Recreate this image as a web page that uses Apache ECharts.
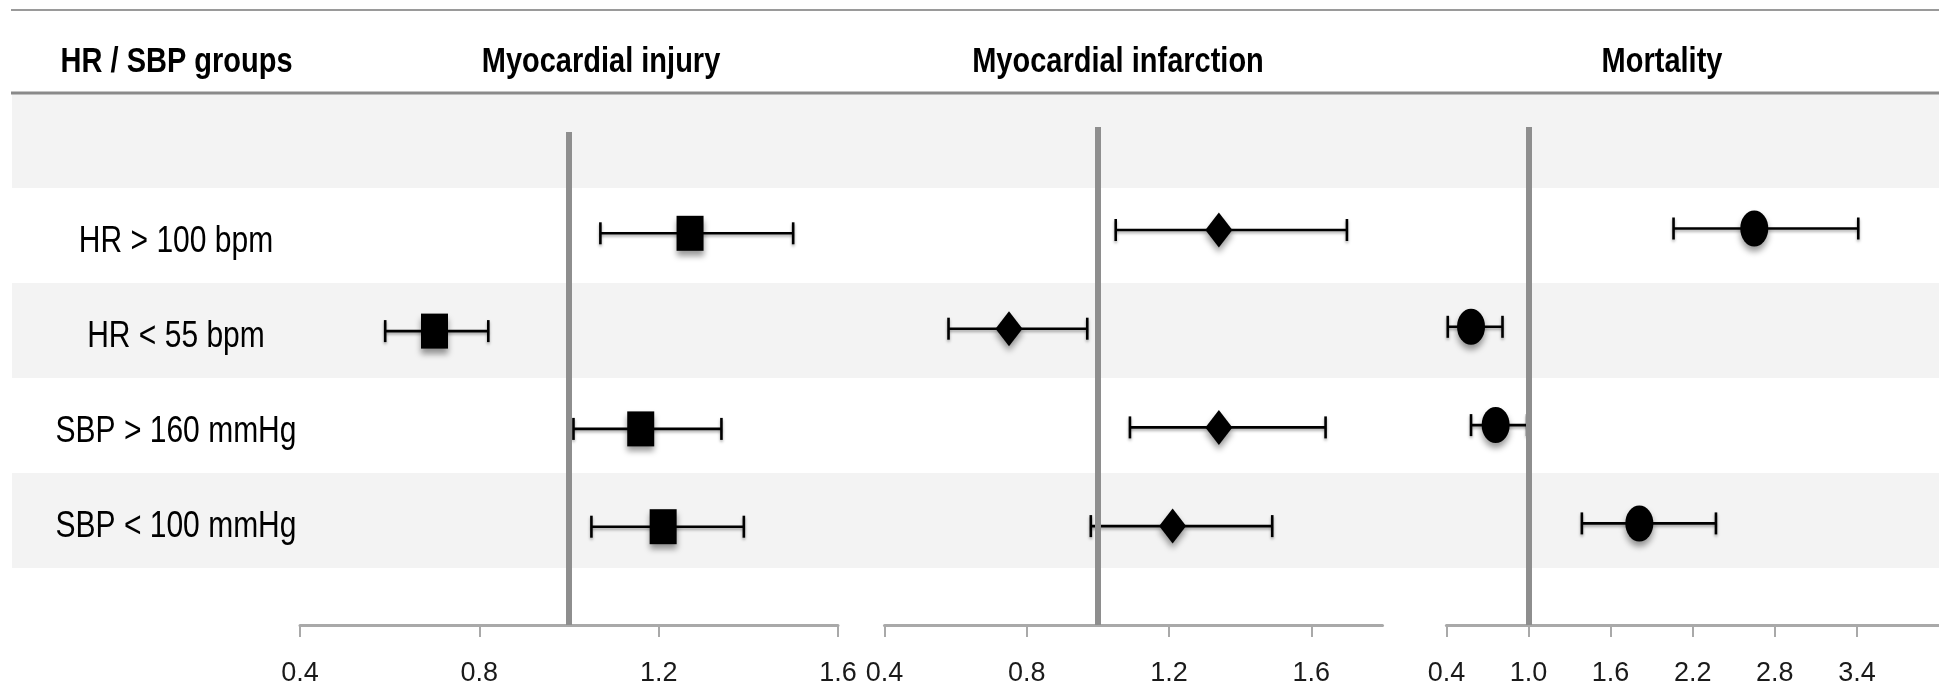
<!DOCTYPE html>
<html>
<head>
<meta charset="utf-8">
<script src="https://cdn.jsdelivr.net/npm/echarts@6/dist/echarts.min.js"></script>
<style>
html,body{margin:0;padding:0;background:#fff;}
#chart{width:1939px;height:690px;}
</style>
</head>
<body>
<div id="chart"></div>
<script>
// ---------- data ----------
const groups = ['HR > 100 bpm', 'HR < 55 bpm', 'SBP > 160 mmHg', 'SBP < 100 mmHg'];
const headerLabel = 'HR / SBP groups';
const panelTitles = ['Myocardial injury', 'Myocardial infarction', 'Mortality'];

const injuryEst = [1.27, 0.70, 1.16, 1.21];
const injuryLo  = [1.07, 0.59, 1.01, 1.05];
const injuryHi  = [1.50, 0.82, 1.34, 1.39];

const infarctEst = [1.34, 0.75, 1.34, 1.21];
const infarctLo  = [1.05, 0.58, 1.09, 0.98];
const infarctHi  = [1.70, 0.97, 1.64, 1.49];

const mortEst = [2.65, 0.58, 0.76, 1.81];
const mortLo  = [2.06, 0.41, 0.58, 1.39];
const mortHi  = [3.41, 0.81, 0.99, 2.37];

const injuryTicks  = [0.4, 0.8, 1.2, 1.6];
const infarctTicks = [0.4, 0.8, 1.2, 1.6];
const mortTicks    = [0.4, 1.0, 1.6, 2.2, 2.8, 3.4];
const refValue = 1;

// ---------- layout / style ----------
const FONT = "'Liberation Sans', Arial, sans-serif";
const axisY = 625;         // pixel y of bottom axes
const H = 690;

const panels = [
  {est: injuryEst, lo: injuryLo, hi: injuryHi, ticks: injuryTicks, min: 0.4, max: 1.6, left: 300, width: 538, top: 132,
   row0: 233.3, rowStep: 97.8, symbol: 'rect', size: [27, 35], titleX: 601},
  {est: infarctEst, lo: infarctLo, hi: infarctHi, ticks: infarctTicks, min: 0.4, max: 1.8, left: 884.5, width: 498, top: 127,
   row0: 230, rowStep: 98.7, symbol: 'diamond', size: [27, 35], titleX: 1118},
  {est: mortEst, lo: mortLo, hi: mortHi, ticks: mortTicks, min: 0.4, max: 4.0, left: 1446.4, width: 523.8, top: 127,
   row0: 228.5, rowStep: 98.3, symbol: 'path://M0,-1 A1,1 0 1,1 0,1 A1,1 0 1,1 0,-1 Z', size: [28, 36], titleX: 1662}
];

const grids = [{left: 12, right: 0, top: 93, height: 475}];
const xAxes = [{gridIndex: 0, type: 'value', show: false, min: 0, max: 1}];
const yAxes = [{
  gridIndex: 0, type: 'category', inverse: true, data: [''].concat(groups),
  axisLine: {show: false}, axisTick: {show: false}, axisLabel: {show: false},
  splitArea: {show: true, areaStyle: {color: ['#f3f3f3', '#ffffff']}}
}];
const series = [];

panels.forEach((p, k) => {
  const gi = k + 1;
  grids.push({left: p.left, width: p.width, top: p.top, bottom: H - axisY});
  xAxes.push({
    gridIndex: gi, type: 'value', min: p.min, max: p.max,
    axisLine: {show: true, onZero: false, lineStyle: {color: '#a9a9a9', width: 3}},
    axisTick: {show: true, length: 12, customValues: p.ticks, lineStyle: {color: '#a9a9a9', width: 2}},
    axisLabel: {customValues: p.ticks, margin: 35, fontSize: 27, fontFamily: FONT, color: '#1a1a1a',
      formatter: v => v.toFixed(1)},
    splitLine: {show: false}
  });
  yAxes.push({
    gridIndex: gi, type: 'value', inverse: true, show: false,
    min: (p.top - p.row0) / p.rowStep, max: (axisY - p.row0) / p.rowStep
  });
  const bars = groups.map((g, i) => [p.lo[i], p.hi[i], i]);
  const pts = groups.map((g, i) => [p.est[i], i]);
  series.push({
    type: 'custom', xAxisIndex: gi, yAxisIndex: gi, data: bars, encode: {x: [0, 1], y: 2}, z: 2,
    renderItem: (params, api) => {
      const y = api.value(2);
      const a = api.coord([api.value(0), y]);
      const b = api.coord([api.value(1), y]);
      const st = {stroke: '#000', lineWidth: 2.6, shadowBlur: 3, shadowOffsetY: 2, shadowColor: 'rgba(0,0,0,0.35)'};
      const cap = 11;
      return {type: 'group', children: [
        {type: 'line', shape: {x1: a[0], y1: a[1], x2: b[0], y2: b[1]}, style: st},
        {type: 'line', shape: {x1: a[0], y1: a[1] - cap, x2: a[0], y2: a[1] + cap}, style: st},
        {type: 'line', shape: {x1: b[0], y1: b[1] - cap, x2: b[0], y2: b[1] + cap}, style: st}
      ]};
    }
  });
  series.push({
    type: 'scatter', xAxisIndex: gi, yAxisIndex: gi, data: pts, z: 3,
    symbol: p.symbol, symbolSize: p.size,
    itemStyle: {color: '#000', opacity: 1, shadowBlur: 6, shadowOffsetY: 5, shadowColor: 'rgba(0,0,0,0.4)'},
    markLine: {
      silent: true, symbol: 'none', z: 5, animation: false,
      label: {show: false},
      lineStyle: {color: '#8e8e8e', width: 6, type: 'solid'},
      data: [{xAxis: refValue}]
    }
  });
});

const chart = echarts.init(document.getElementById('chart'));
chart.setOption({
  animation: false,
  backgroundColor: '#ffffff',
  grid: grids,
  xAxis: xAxes,
  yAxis: yAxes,
  series: series
});

function txt(text, x, y, size, bold, sy) {
  return {
    type: 'text', x: x, y: y, scaleY: sy, z: 10,
    style: {text: text, fontSize: size, fontWeight: bold ? 'bold' : 'normal', fontFamily: FONT, fill: '#000',
      align: 'center', verticalAlign: 'middle', textAlign: 'center', textVerticalAlign: 'middle'}
  };
}

// header texts (condensed / tall like the original typeface)
const headerGraphics = [txt(headerLabel, 176.6, 62, 29, true, 1.2)]
  .concat(panelTitles.map((t, k) => txt(t, panels[k].titleX, 62, 29, true, 1.2)));

// row labels: placed on the background category axis
const labelGraphics = groups.map(g => txt(g, 176, chart.convertToPixel({yAxisIndex: 0}, g) + 7, 30, false, 1.2));

chart.setOption({
  graphic: [
    {type: 'line', shape: {x1: 11, y1: 10, x2: 1939, y2: 10}, style: {stroke: '#9a9a9a', lineWidth: 2}, z: 10},
    {type: 'line', shape: {x1: 11, y1: 93, x2: 1939, y2: 93}, style: {stroke: '#8a8a8a', lineWidth: 3}, z: 10}
  ].concat(headerGraphics, labelGraphics)
});
</script>
</body>
</html>
